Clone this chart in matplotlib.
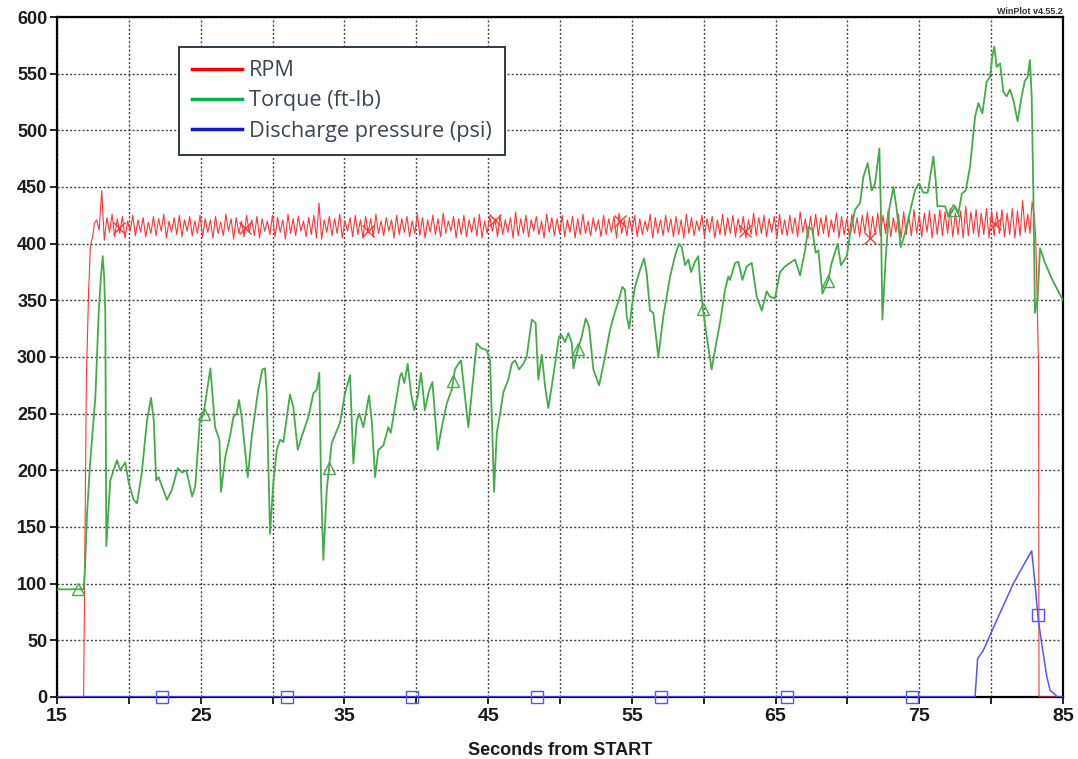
import matplotlib.pyplot as plt
import numpy as np

# RPM: start-up ramp, steady oscillating run (fixed sample interval), shutdown
rpm_start_t = [15.0, 16.85, 16.95, 17.04, 17.2, 17.32, 17.5, 17.6]
rpm_start = [0, 0, 150, 280, 359, 397, 408, 418]

rpm_t0 = 17.75
rpm_dt = 0.18
rpm_run = [
    421, 412, 447, 403, 423, 410, 426, 406, 422, 409, 424, 405, 420, 411, 425, 407, 421, 410, 423, 406,
    419, 409, 424, 407, 422, 411, 426, 405, 420, 410, 423, 408, 425, 406, 421, 411, 424, 407, 420, 409,
    425, 406, 422, 410, 421, 405, 424, 409, 419, 407, 426, 411, 422, 404, 423, 409, 420, 406, 425, 410,
    421, 407, 424, 405, 422, 411, 420, 408, 425, 406, 423, 410, 421, 404, 426, 409, 422, 407, 424, 411,
    420, 406, 423, 408, 425, 405, 436, 404, 421, 410, 424, 407, 422, 409, 426, 405, 420, 411, 423, 406,
    425, 408, 421, 405, 424, 410, 422, 406, 426, 409, 420, 407, 423, 411, 421, 405, 425, 408, 422, 410,
    424, 406, 420, 409, 426, 407, 423, 405, 421, 410, 425, 408, 422, 406, 427, 409, 420, 411, 424, 405,
    422, 408, 425, 406, 421, 410, 423, 407, 426, 405, 420, 409, 424, 411, 422, 406, 425, 408, 421, 410,
    423, 405, 428, 407, 422, 409, 425, 406, 421, 411, 424, 408, 420, 405, 426, 410, 423, 407, 422, 409,
    425, 406, 421, 410, 424, 405, 422, 408, 426, 409, 420, 407, 423, 411, 421, 406, 425, 408, 422, 410,
    424, 405, 427, 409, 421, 407, 423, 410, 425, 406, 422, 408, 420, 411, 426, 405, 423, 409, 421, 407,
    425, 410, 422, 406, 424, 408, 421, 405, 426, 409, 423, 407, 420, 411, 425, 406, 422, 410, 424, 405,
    421, 408, 426, 407, 423, 409, 425, 406, 422, 410, 424, 405, 421, 408, 427, 407, 423, 409, 425, 406,
    422, 410, 424, 405, 426, 408, 421, 407, 425, 409, 423, 406, 428, 410, 422, 405, 424, 408, 426, 407,
    423, 409, 425, 406, 421, 410, 427, 405, 424, 408, 422, 407, 426, 409, 423, 406, 425, 410, 428, 405,
    424, 408, 427, 407, 425, 409, 429, 406, 423, 410, 426, 405, 428, 408, 424, 407, 430, 409, 425, 406,
    427, 410, 429, 405, 426, 408, 430, 407, 428, 409, 431, 406, 427, 408, 429, 405, 433, 407, 428, 409,
    430, 406, 427, 408, 431, 405, 429, 407, 428, 409, 430, 406, 427, 408, 431, 405, 429, 407, 438, 410,
]

rpm_end_t = [82.55, 82.7, 82.85, 83.0, 83.1, 83.2, 83.3, 83.33, 85.0]
rpm_end = [426, 409, 437, 425, 405, 350, 290, 0, 0]

# Torque (ft-lb)
torque_t = [
    15.0, 16.85, 16.95, 17.09, 17.3, 17.67, 17.9, 18.05, 18.18, 18.28, 18.36, 18.43, 18.7, 19.17, 19.4,
    19.75, 19.99, 20.33, 20.57, 20.9, 21.26, 21.54, 21.73, 21.9, 22.07, 22.65, 23.0, 23.4, 23.7, 24.0,
    24.4, 24.62, 24.93, 25.2, 25.67, 26.0, 26.3, 26.41, 26.71, 27.04, 27.27, 27.5, 27.66, 27.85, 28.27,
    28.55, 29.0, 29.29, 29.47, 29.59, 29.82, 30.05, 30.29, 30.52, 30.75, 31.21, 31.44, 31.75, 32.03, 32.49,
    32.84, 33.07, 33.25, 33.37, 33.53, 33.77, 34.11, 34.69, 35.04, 35.39, 35.62, 35.86, 36.04, 36.32, 36.71,
    36.9, 37.13, 37.36, 37.71, 38.05, 38.22, 38.64, 38.87, 38.98, 39.17, 39.4, 39.63, 39.86, 40.1, 40.33,
    40.6, 40.84, 41.12, 41.49, 41.77, 42.12, 42.46, 42.69, 42.88, 43.11, 43.62, 43.97, 44.2, 44.5, 44.9,
    45.13, 45.29, 45.41, 45.6, 45.83, 46.06, 46.4, 46.64, 46.87, 47.15, 47.45, 47.68, 48.03, 48.3, 48.49,
    48.73, 48.96, 49.19, 49.53, 49.93, 50.12, 50.35, 50.58, 50.82, 50.93, 51.16, 51.51, 51.79, 52.02, 52.32,
    52.49, 52.72, 52.9, 53.13, 53.48, 53.83, 54.06, 54.34, 54.52, 54.64, 54.82, 54.99, 55.22, 55.57, 55.85,
    56.03, 56.26, 56.49, 56.84, 57.19, 57.66, 58.0, 58.28, 58.47, 58.7, 58.93, 59.12, 59.39, 59.62, 59.74,
    59.9, 60.14, 60.55, 60.78, 61.13, 61.48, 61.71, 61.83, 62.18, 62.41, 62.69, 62.99, 63.34, 63.69, 64.04,
    64.38, 64.61, 64.96, 65.31, 65.66, 66.0, 66.35, 66.7, 67.05, 67.28, 67.56, 67.79, 67.98, 68.26, 68.67,
    68.9, 69.32, 69.55, 69.95, 70.18, 70.53, 70.88, 71.11, 71.41, 71.69, 71.92, 72.22, 72.32, 72.43, 72.67,
    72.9, 73.2, 73.43, 73.71, 74.0, 74.35, 74.7, 74.98, 75.28, 75.58, 75.98, 76.14, 76.26, 76.79, 77.02,
    77.26, 77.49, 77.72, 77.96, 78.23, 78.53, 78.88, 79.11, 79.39, 79.69, 79.92, 80.08, 80.22, 80.38, 80.62,
    80.85, 81.08, 81.31, 81.54, 81.84, 82.12, 82.35, 82.54, 82.7, 82.82, 82.94, 83.05, 83.24, 83.4, 83.75,
    84.22, 85.0,
]
torque = [
    95, 95, 115, 162, 206, 265, 339, 370, 389, 370, 339, 133, 191, 209, 200,
    207, 189, 174, 171, 198, 244, 264, 244, 191, 194, 174, 183, 202, 198, 200,
    177, 186, 242, 250, 290, 238, 227, 181, 212, 230, 247, 250, 262, 247, 194,
    230, 271, 289, 290, 268, 144, 189, 218, 227, 225, 267, 256, 218, 230, 247,
    268, 271, 286, 189, 121, 183, 224, 242, 268, 284, 206, 244, 250, 238, 266,
    244, 194, 218, 222, 238, 233, 265, 283, 286, 277, 294, 268, 253, 265, 286,
    253, 268, 278, 218, 238, 259, 271, 289, 293, 297, 238, 283, 312, 308, 306,
    297, 233, 181, 233, 250, 269, 280, 294, 297, 289, 294, 300, 333, 330, 280,
    302, 274, 255, 283, 318, 319, 313, 321, 312, 290, 303, 318, 334, 327, 289,
    283, 275, 286, 300, 324, 340, 349, 362, 359, 336, 325, 344, 362, 377, 387,
    374, 341, 339, 300, 336, 371, 389, 400, 397, 381, 386, 375, 384, 389, 368,
    347, 324, 289, 306, 330, 359, 371, 368, 383, 384, 368, 380, 383, 353, 341,
    358, 353, 352, 375, 380, 383, 386, 372, 394, 415, 412, 392, 394, 356, 368,
    383, 400, 381, 389, 408, 430, 436, 459, 471, 447, 453, 484, 433, 333, 389,
    430, 450, 430, 397, 409, 428, 447, 453, 445, 445, 477, 456, 433, 433, 424,
    428, 433, 427, 444, 447, 468, 512, 524, 515, 543, 547, 565, 574, 556, 559,
    534, 530, 536, 527, 508, 530, 544, 547, 562, 530, 441, 339, 353, 396, 383,
    369, 350,
]

# Discharge pressure (psi)
pressure_t = [15.0, 78.88, 79.06, 79.45, 80.15, 81.54, 82.24, 82.82, 83.05, 83.28, 83.52, 83.87, 84.1, 84.45, 84.6, 85.0]
pressure = [0, 0, 34, 41, 61, 100, 116, 129, 100, 68, 47, 18, 6, 2, 0, 0]

# symbol positions along each trace
rpm_marks = [19.3, 28.08, 36.64, 45.48, 54.18, 62.87, 71.57, 80.3]
torque_marks = [16.46, 25.2, 33.93, 42.56, 51.26, 59.95, 68.65, 77.35]
pressure_marks = [22.31, 31.0, 39.7, 48.4, 57.03, 65.8, 74.5, 83.25]

red = '#ff3636'
green = '#43ab4c'
blue = '#5555ff'

run_t = rpm_t0 + rpm_dt * np.arange(len(rpm_run))
rpm_t = np.concatenate([rpm_start_t, run_t, rpm_end_t])
rpm = np.concatenate([rpm_start, rpm_run, rpm_end])

fig = plt.figure(figsize=(10.78, 7.59), dpi=100)
ax = fig.add_axes([0.0529, 0.0817, 0.9332, 0.8959])

ax.plot(rpm_t, rpm, color=red, lw=0.8, zorder=3)
ax.plot(torque_t, torque, color=green, lw=1.3, zorder=4)
ax.plot(pressure_t, pressure, color=blue, lw=1.1, zorder=5)

ax.plot(rpm_marks, np.interp(rpm_marks, rpm_t, rpm), ls='none', marker='x',
        ms=9, mew=1.0, color=red, zorder=3)
ax.plot(torque_marks, np.interp(torque_marks, torque_t, torque), ls='none', marker='^',
        ms=9, mew=1.0, mfc='none', mec=green, zorder=4)
ax.plot(pressure_marks, np.interp(pressure_marks, pressure_t, pressure), ls='none', marker='s',
        ms=8, mew=1.0, mfc='none', mec=blue, zorder=5, clip_on=False)

ax.set_xlim(15, 85)
ax.set_ylim(0, 600)
ax.set_xticks(np.arange(15, 86, 10))
ax.set_xticks(np.arange(20, 85, 10), minor=True)
ax.set_yticks(np.arange(0, 601, 50))

grid_kw = dict(color='#444444', lw=1.0, linestyle=(0, (1.5, 1.5)))
ax.grid(True, which='major', **grid_kw)
ax.grid(True, which='minor', axis='x', **grid_kw)
ax.set_axisbelow(True)

for s in ax.spines.values():
    s.set_linewidth(1.6)
    s.set_color('black')

ax.tick_params(axis='both', which='both', direction='out', length=5, width=1.2, color='black')
ax.tick_params(axis='y', pad=2)
ax.tick_params(axis='x', pad=3)
for lab in ax.get_yticklabels():
    lab.set_fontfamily('Liberation Sans')
    lab.set_fontweight('bold')
    lab.set_fontsize(13)
    lab.set_color('#1a1a1a')
for lab in ax.get_xticklabels():
    lab.set_fontfamily('Liberation Sans')
    lab.set_fontweight('bold')
    lab.set_fontsize(14)
    lab.set_color('#1a1a1a')

ax.set_xlabel('Seconds from START', fontfamily='Liberation Sans', fontweight='bold',
              fontsize=13, color='#1a1a1a', labelpad=12)

# legend with plain line handles
handles = [
    plt.Line2D([], [], color='#ff0000', lw=2.5),
    plt.Line2D([], [], color='#00b050', lw=2.5),
    plt.Line2D([], [], color='#1414c8', lw=2.5),
]
leg = ax.legend(handles, ['RPM', 'Torque (ft-lb)', 'Discharge pressure (psi)'],
                loc='upper left', bbox_to_anchor=(0.1213, 0.956), borderaxespad=0,
                fancybox=False, framealpha=1, edgecolor='#2e3b4a',
                prop={'family': 'Open Sans', 'size': 15.6}, handlelength=2.3,
                handletextpad=0.3, labelspacing=0.42, borderpad=0.62)
leg.get_frame().set_linewidth(1.4)
for txt in leg.get_texts():
    txt.set_color('#3a4654')
leg.set_zorder(10)

fig.text(0.9855, 0.9855, 'WinPlot v4.55.2', ha='right', va='center', fontsize=6.5,
         fontweight='bold', fontfamily='Liberation Sans', color='#333333')

fig.savefig('out.png', dpi=100)
